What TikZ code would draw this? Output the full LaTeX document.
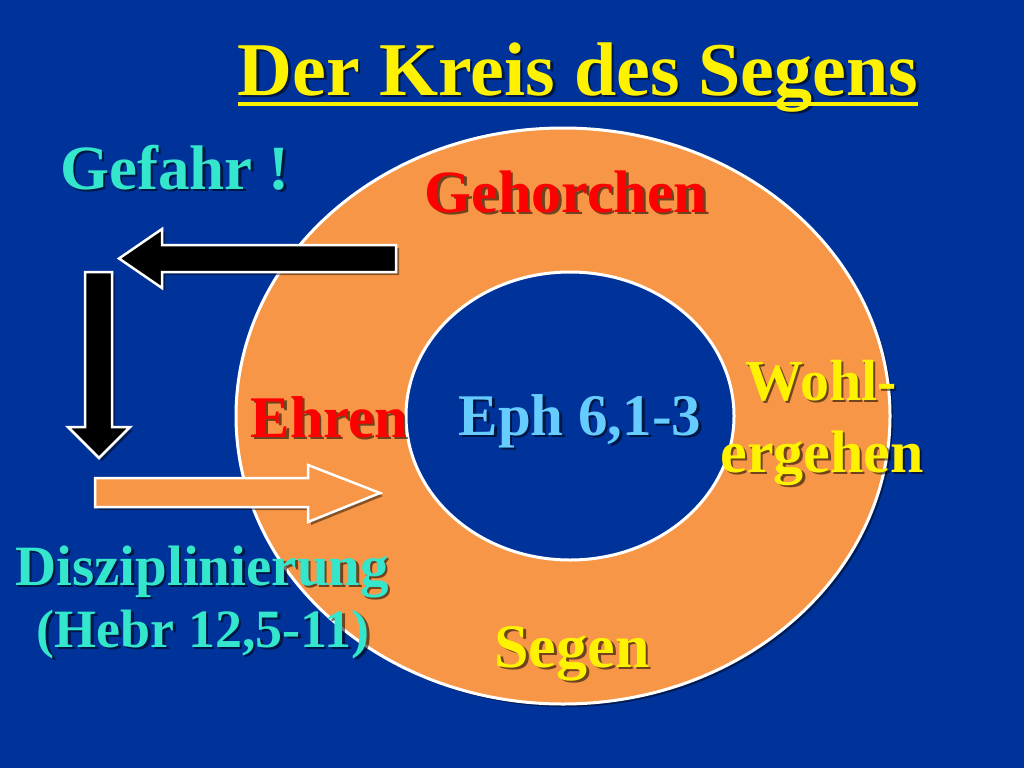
\documentclass[tikz,border=0pt]{standalone}
\usepackage{fontspec}
\setmainfont{Liberation Serif}
\usetikzlibrary{shapes.geometric}
\definecolor{slideblue}{RGB}{0,51,153}
\definecolor{ringorange}{RGB}{247,150,70}
\definecolor{mint}{RGB}{51,230,204}
\definecolor{skyblue}{RGB}{102,204,255}
\definecolor{warnred}{RGB}{255,0,0}

% text with a drop shadow: name, position, style, text
\newcommand{\shadowtext}[4]{%
    \node[word, #3, text=black, opacity=0.55, xshift=2.5pt, yshift=-2.5pt] at #2 {#4};
    \node[word, #3] (#1) at #2 {#4};}

\begin{document}
\begin{tikzpicture}
    [
        x=1pt, y=-1pt,
        word/.style={anchor=base, inner sep=0pt},
        fs/.style={font=\bfseries\fontsize{#1}{#1}\selectfont},
        drop/.style={preaction={fill=black, opacity=0.45, transform canvas={xshift=3pt, yshift=-3pt}}},
        ring/.style={ellipse, draw=white, line width=3pt, inner sep=0pt}
    ]
    \tikzstyle{blockarrow} = [draw=white, line width=2.5pt, line join=miter, drop]

    \useasboundingbox (0,0) rectangle (1024,768);
    \fill[slideblue] (0,0) rectangle (1024,768);

    % Ring
    \node[ring, drop, fill=ringorange, minimum width=654pt, minimum height=576pt] (outer) at (563,416) {};
    \node[ring, fill=slideblue, minimum width=328pt, minimum height=288pt] (inner) at (570,416) {};

    % Title
    \shadowtext{title}{(578,95)}{fs=76, text=yellow}{Der Kreis des Segens}
    \draw[yellow, line width=4pt] ([yshift=-9pt]title.base west) -- ([yshift=-9pt]title.base east);

    % Words on the ring
    \shadowtext{gehorchen}{(566,212)}{fs=60, text=warnred}{Gehorchen}
    \shadowtext{ehren}{(329,437)}{fs=59, text=warnred}{Ehren}
    \shadowtext{eph}{(580,435)}{fs=59, text=skyblue}{Eph 6,1-3}
    \shadowtext{wohl}{(821,400)}{fs=58, text=yellow}{Wohl-}
    \shadowtext{ergehen}{(822,472)}{fs=60, text=yellow}{ergehen}
    \shadowtext{segen}{(572,667)}{fs=62, text=yellow}{Segen}

    % Way out of the circle
    \shadowtext{gefahr}{(175,189)}{fs=63, text=mint}{Gefahr !}
    \shadowtext{diszip}{(202,585)}{fs=57, text=mint}{Disziplinierung}
    \shadowtext{hebr}{(203,647)}{fs=54, text=mint}{(Hebr 12,5-11)}

    % Block arrows
    \draw[blockarrow, fill=black] (396,245) -- (162,245) -- (162,229) -- (119,258.5)
        -- (162,288) -- (162,272) -- (396,272) -- cycle;
    \draw[blockarrow, fill=black] (85,272) -- (112,272) -- (112,427) -- (130,427)
        -- (99,458) -- (68,427) -- (85,427) -- cycle;
    \draw[blockarrow, fill=ringorange] (95,478) -- (308,478) -- (308,465) -- (380,493)
        -- (308,522) -- (308,507) -- (95,507) -- cycle;
\end{tikzpicture}
\end{document}
